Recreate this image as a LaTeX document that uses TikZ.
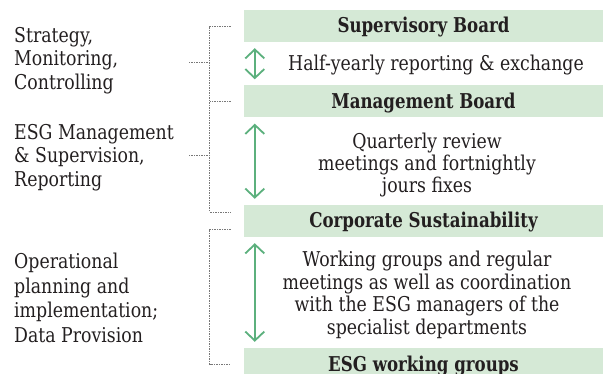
\documentclass[tikz,border=0pt]{standalone}
\usepackage{fontspec}
\setmainfont{DejaVu Serif}[FakeStretch=0.85, BoldFeatures={FakeStretch=0.815}]
\usetikzlibrary{arrows.meta}
\definecolor{boxgreen}{RGB}{213,233,214}
\definecolor{arrowgreen}{RGB}{92,176,125}
\definecolor{txt}{RGB}{35,31,32}
\definecolor{dotgray}{RGB}{120,120,120}
\begin{document}
\begin{tikzpicture}[x=1pt,y=-1pt, text=txt,
 board/.style={fill=boxgreen, minimum width=359pt, minimum height=32pt, inner sep=0pt, text height=15.5pt, text depth=1.5pt, font=\fontsize{20.4}{22}\selectfont\bfseries},
 body/.style={align=center, inner sep=0pt, font=\fontsize{20.4}{22}\selectfont},
 lbl/.style={align=left, anchor=west, inner sep=0pt, font=\fontsize{20.4}{23.5}\selectfont},
 flow/.style={draw=arrowgreen, line width=1.8pt, {Straight Barb[length=9pt,width=19pt]}-{Straight Barb[length=9pt,width=19pt]}, shorten <=6pt, shorten >=6pt},
 bracket/.style={draw=dotgray, line width=0.7pt, dash pattern=on 1.5pt off 1pt}]
\useasboundingbox (0,0) rectangle (603,374);

\node[board] (sup) at (423.5,26) {Supervisory Board};
\node[board] (mgmt) at (423.5,101.5) {Management Board};
\node[board] (corp) at (423.5,221) {Corporate Sustainability};
\node[board] (esg) at (423.5,364) {ESG working groups};

\node[body] (t1) at (436,65) {Half-yearly reporting \& exchange};
\node[body] (t2) at (427,165.5) {Quarterly review\\meetings and fortnightly\\jours fixes};
\node[body, font=\fontsize{20.4}{22.5}\selectfont] (t3) at (427,295) {Working groups and regular\\meetings as well as coordination\\with the ESG managers of the\\specialist departments};

\node[lbl] (l1) at (14,60.5) {Strategy,\\Monitoring,\\Controlling};
\node[lbl] (l2) at (14,157.5) {ESG Management\\\& Supervision,\\Reporting};
\node[lbl, font=\fontsize{20.4}{24.5}\selectfont] (l3) at (14,298) {Operational\\planning and\\implementation;\\Data Provision};

\draw[flow] ([xshift=11pt]sup.south west) -- ([xshift=11pt]mgmt.north west);
\draw[flow] ([xshift=11pt]mgmt.south west) -- ([xshift=11pt]corp.north west);
\draw[flow] ([xshift=11pt]corp.south west) -- ([xshift=11pt]esg.north west);

\coordinate (b1t) at ([xshift=-13pt]sup.west);
\coordinate (b1m) at ([xshift=-13pt]mgmt.west);
\coordinate (b2b) at ([xshift=-13pt,yshift=9pt]corp.west);
\coordinate (b3t) at ([xshift=-13pt,yshift=-8pt]corp.west);
\coordinate (b3b) at ([xshift=-13pt]esg.west);
\coordinate (k1) at (210,62);
\coordinate (k2) at (210,155);

\draw[bracket] (b1t) -- ++(-21,0) |- (b2b);
\draw[bracket] (b1m) -- ++(-21,0);
\draw[bracket] (b3t) -- ++(-21,0) |- (b3b);
\draw[bracket] (k1) -- ++(-22,0);
\draw[bracket] (k2) -- ++(-22,0);
\end{tikzpicture}
\end{document}
